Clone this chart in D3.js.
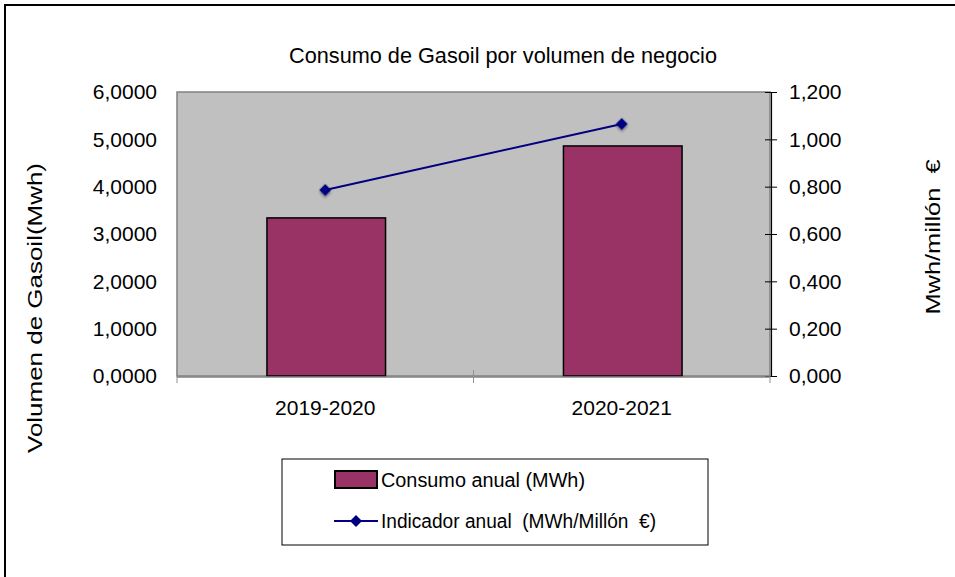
<!DOCTYPE html>
<head>
  <meta charset="utf-8">
  <style>
    body { margin: 0; background: #fff; font-family: 'Liberation Sans', Arial, sans-serif; }
    svg { display: block; }
  </style>
  <script src="https://cdn.jsdelivr.net/npm/d3@7"></script>
</head>
<body>
<div id=chart></div>
<script>
// data
const categories = ['2019-2020', '2020-2021']
const consumo = [3.34, 4.86]        // Consumo anual (MWh)
const indicador = [0.786, 1.065]    // Indicador anual (MWh/Millón €)
const leftTicks = [0, 1, 2, 3, 4, 5, 6]
const rightTicks = [0, 0.2, 0.4, 0.6, 0.8, 1.0, 1.2]

const width = 955, height = 577
const plot = { left: 177, right: 770, top: 92, bottom: 376 }
const barColor = '#993366'
const lineColor = '#000080'
const fmt4 = d => d3.format('.4f')(d).replace('.', ',')
const fmt3 = d => d3.format('.3f')(d).replace('.', ',')

const svg = d3.select('#chart').append('svg')
  .attr('width', width)
  .attr('height', height)

const defs = svg.append('defs')
const shadow = defs.append('filter').attr('id', 'shadow')
  .attr('x', '-50%').attr('y', '-50%').attr('width', '200%').attr('height', '200%')
shadow.append('feDropShadow')
  .attr('dx', 1.5).attr('dy', 1.5).attr('stdDeviation', 1.2)
  .attr('flood-color', '#000').attr('flood-opacity', 0.35)

// outer frame (runs off the right/bottom edge)
svg.append('rect')
  .attr('x', 5).attr('y', 5)
  .attr('width', width + 10).attr('height', height + 10)
  .attr('fill', 'none').attr('stroke', '#000').attr('stroke-width', 2)

// scales
const x = d3.scaleBand().domain(categories).range([plot.left, plot.right]).paddingInner(0).paddingOuter(0)
const yL = d3.scaleLinear().domain([0, 6]).range([plot.bottom, plot.top])
const yR = d3.scaleLinear().domain([0, 1.2]).range([plot.bottom, plot.top])

// plot area
svg.append('rect')
  .attr('x', plot.left).attr('y', plot.top)
  .attr('width', plot.right - plot.left).attr('height', plot.bottom - plot.top)
  .attr('fill', '#c0c0c0').attr('stroke', '#808080').attr('stroke-width', 1.5)

// bars
const barW = x.bandwidth() * 0.4
svg.append('g').selectAll('rect')
  .data(consumo)
  .join('rect')
    .attr('x', (d, i) => x(categories[i]) + x.bandwidth() / 2 - barW / 2 + 1)
    .attr('y', d => yL(d))
    .attr('width', barW)
    .attr('height', d => yL(0) - yL(d))
    .attr('fill', barColor)
    .attr('stroke', '#000')
    .attr('stroke-width', 1.5)

// line + markers
const pts = indicador.map((v, i) => [x(categories[i]) + x.bandwidth() / 2, yR(v)])
svg.append('path')
  .attr('d', d3.line()(pts))
  .attr('fill', 'none')
  .attr('stroke', lineColor)
  .attr('stroke-width', 2)

const diamond = d3.symbol(d3.symbolSquare, 72)
svg.append('g').selectAll('path')
  .data(pts)
  .join('path')
    .attr('d', diamond)
    .attr('transform', d => `translate(${d[0]},${d[1]}) rotate(45)`)
    .attr('fill', lineColor)
    .attr('filter', 'url(#shadow)')

// left axis (labels only)
svg.append('g')
  .attr('transform', `translate(${plot.left},0)`)
  .call(d3.axisLeft(yL).tickValues(leftTicks).tickFormat(fmt4).tickSize(0).tickPadding(20))
  .call(g => g.select('.domain').remove())
  .call(g => g.selectAll('text').attr('font-size', 21).attr('fill', '#000')
    .attr('font-family', "'Liberation Sans', Arial, sans-serif"))

// right axis
svg.append('g')
  .attr('transform', `translate(${plot.right + 1},0)`)
  .call(d3.axisRight(yR).tickValues(rightTicks).tickFormat(fmt3).tickSize(6).tickPadding(12))
  .call(g => g.select('.domain').attr('stroke', '#000').attr('stroke-width', 1.2))
  .call(g => g.selectAll('.tick line').attr('x1', -6).attr('stroke', '#000'))
  .call(g => g.selectAll('text').attr('font-size', 21).attr('fill', '#000')
    .attr('font-family', "'Liberation Sans', Arial, sans-serif"))

// bottom axis
const xEdges = [plot.left, x(categories[1]), plot.right]
svg.append('g').attr('class', 'x-axis')
  .call(g => g.append('line')
    .attr('x1', plot.left).attr('x2', plot.right)
    .attr('y1', plot.bottom + 1).attr('y2', plot.bottom + 1)
    .attr('stroke', '#808080').attr('stroke-width', 1.5))
  .call(g => g.selectAll('.tk').data(xEdges).join('line')
    .attr('x1', d => d).attr('x2', d => d)
    .attr('y1', plot.bottom - 6).attr('y2', plot.bottom + 7)
    .attr('stroke', '#909090').attr('stroke-width', 1))
svg.append('g')
  .attr('transform', `translate(0,${plot.bottom})`)
  .call(d3.axisBottom(x).tickSize(0).tickPadding(24))
  .call(g => g.select('.domain').remove())
  .call(g => g.selectAll('text').attr('font-size', 21).attr('fill', '#000')
    .attr('font-family', "'Liberation Sans', Arial, sans-serif"))

// title
svg.append('text')
  .attr('x', 503).attr('y', 63)
  .attr('text-anchor', 'middle')
  .attr('font-size', 22)
  .attr('textLength', 428)
  .attr('lengthAdjust', 'spacingAndGlyphs')
  .text('Consumo de Gasoil por volumen de negocio')

// axis titles (stretched along their length, as in the source)
svg.append('text')
  .attr('transform', 'translate(42,308) rotate(-90)')
  .attr('text-anchor', 'middle')
  .attr('font-size', 21)
  .attr('textLength', 290)
  .attr('lengthAdjust', 'spacingAndGlyphs')
  .text('Volumen de Gasoil(Mwh)')
svg.append('text')
  .attr('transform', 'translate(940,237) rotate(-90)')
  .attr('text-anchor', 'middle')
  .attr('font-size', 20)
  .attr('textLength', 155)
  .attr('lengthAdjust', 'spacingAndGlyphs')
  .attr('xml:space', 'preserve')
  .text('Mwh/millón  €')

// legend
const lg = svg.append('g')
lg.append('rect')
  .attr('x', 282).attr('y', 459).attr('width', 426).attr('height', 86)
  .attr('fill', '#fff').attr('stroke', '#000').attr('stroke-width', 1)
lg.append('rect')
  .attr('x', 335).attr('y', 471).attr('width', 42).attr('height', 17)
  .attr('fill', barColor).attr('stroke', '#000').attr('stroke-width', 2)
lg.append('text')
  .attr('x', 381).attr('y', 487)
  .attr('font-size', 20)
  .attr('textLength', 204)
  .attr('lengthAdjust', 'spacingAndGlyphs')
  .text('Consumo anual (MWh)')
lg.append('line')
  .attr('x1', 334).attr('x2', 378).attr('y1', 521).attr('y2', 521)
  .attr('stroke', lineColor).attr('stroke-width', 2)
lg.append('path')
  .attr('d', diamond)
  .attr('transform', 'translate(356,521) rotate(45)')
  .attr('fill', lineColor)
lg.append('text')
  .attr('x', 381).attr('y', 528)
  .attr('font-size', 20)
  .attr('textLength', 275)
  .attr('lengthAdjust', 'spacingAndGlyphs')
  .attr('xml:space', 'preserve')
  .text('Indicador anual  (MWh/Millón  €)')
</script>
</body>
